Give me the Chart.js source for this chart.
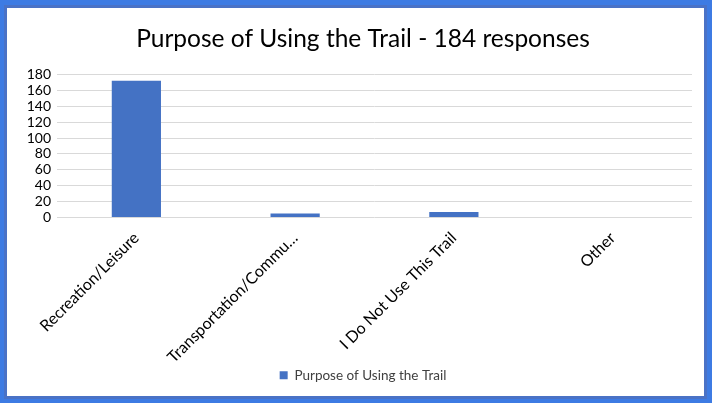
<!DOCTYPE html>
<html>
<head>
<meta charset="utf-8">
<script src="https://cdn.jsdelivr.net/npm/chart.js@4/dist/chart.umd.min.js"></script>
<style>
  html, body { margin: 0; padding: 0; }
  body { width: 712px; height: 403px; background: #3d7be3; position: relative; overflow: hidden; }
  #frame { position: absolute; left: 4px; top: 5px; width: 697px; height: 388px; border: 3px solid #4a72c6; background: #fff; }
  #chart { display: block; }
</style>
</head>
<body>
<div id="frame"><canvas id="chart" width="697" height="388"></canvas></div>
<script>
// categories and counts
var categories = ["Recreation/Leisure", "Transportation/Commu\u2026", "I Do Not Use This Trail", "Other"];
var responses = [172, 5, 7, 0];
var yTicks = [0, 20, 40, 60, 80, 100, 120, 140, 160, 180];

var fontFamily = "Lato, 'Open Sans', sans-serif";

// y axis is narrow so title/legend sit centred like the original;
// widen its label clip back to the canvas edge after layout
var unclipTicks = {
    id: 'unclipTicks',
    afterLayout: function (chart) { chart.scales.y.left = 0; }
};

var formatted = {
    labels: categories,
    datasets: [{
        label: 'Purpose of Using the Trail',
        data: responses,
        backgroundColor: '#4472c4',
        borderWidth: 0,
        barPercentage: 0.31,
        categoryPercentage: 1.0
    }]
};

var config = {
    type: "bar",
    data: formatted,
    plugins: [unclipTicks],
    options: {
        responsive: false,
        maintainAspectRatio: false,
        animation: false,
        layout: { padding: { top: 8, left: 27, right: 12, bottom: 4 } },
        plugins: {
            title: {
                display: true,
                text: "Purpose of Using the Trail - 184 responses",
                color: '#000',
                font: { family: fontFamily, size: 24.5, weight: 'normal' },
                padding: { top: 8, bottom: 21 }
            },
            legend: {
                position: 'bottom',
                labels: {
                    color: '#404040',
                    font: { family: fontFamily, size: 13.5 },
                    boxWidth: 8,
                    boxHeight: 8,
                    padding: 8
                }
            },
            tooltip: { enabled: false }
        },
        scales: {
            x: {
                grid: { display: false },
                border: { display: false },
                ticks: {
                    color: '#000',
                    font: { family: fontFamily, size: 16 },
                    maxRotation: 45,
                    minRotation: 45,
                    autoSkip: false
                },
                afterFit: function (scale) { scale.height = 143; }
            },
            y: {
                min: 0,
                max: 180,
                afterBuildTicks: function (scale) { scale.ticks = yTicks.map(function (v) { return { value: v }; }); },
                grid: { color: '#d9d9d9', drawTicks: false },
                border: { display: false },
                ticks: {
                    color: '#000',
                    font: { family: fontFamily, size: 14 },
                    padding: 6,
                    autoSkip: false
                },
                afterFit: function (scale) { scale.width = 23; }
            }
        }
    }
};

new Chart(document.getElementById('chart'), config);
</script>
</body>
</html>
